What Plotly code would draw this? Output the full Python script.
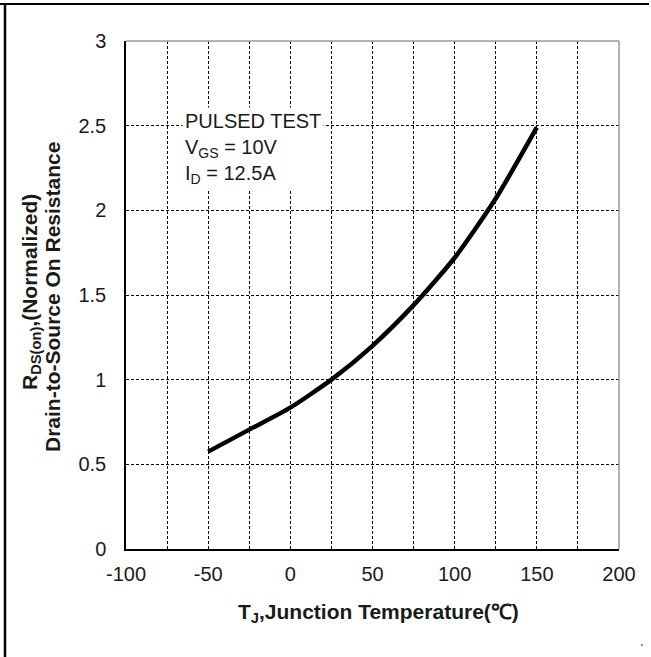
import plotly.graph_objects as go

# Normalized on-resistance vs junction temperature
temp_c = [-50, -25, 0, 25, 50, 75, 100, 125, 150]
rds_norm = [0.575, 0.705, 0.835, 1.0, 1.2, 1.44, 1.72, 2.07, 2.49]

x_ticks = [-100, -50, 0, 50, 100, 150, 200]
x_tick_text = ["-100", "-50", "0", "50", "100", "150", "200"]
y_ticks = [0, 0.5, 1, 1.5, 2, 2.5, 3]
y_tick_text = ["0", "0.5", "1", "1.5", "2", "2.5", "3"]

W, H = 651, 657
L, R, T, B = 126, 32, 41, 108
pw, ph = W - L - R, H - T - B


def px_x(px):
    return (px - L) / pw


def px_y(py):
    return (H - B - py) / ph


font = "Liberation Sans, Arial, sans-serif"
ink = "#1a1a1a"

fig = go.Figure()
fig.add_trace(go.Scatter(
    x=temp_c, y=rds_norm, mode="lines",
    line=dict(color="black", width=4.5, shape="spline", smoothing=0.6),
    hoverinfo="skip", showlegend=False,
))

dash = "3px,2px"
common = dict(showgrid=True, gridcolor="black", gridwidth=1.3, griddash=dash,
              zeroline=False, ticks="", showline=True, linecolor="black", linewidth=1.5,
              tickfont=dict(family=font, size=20, color=ink))

fig.update_xaxes(range=[-100, 200], tickvals=x_ticks, ticktext=x_tick_text,
                 ticklabelstandoff=6,
                 minor=dict(showgrid=True, dtick=25, gridcolor="black", griddash=dash, gridwidth=1.3),
                 **common)
fig.update_yaxes(range=[0, 3], tickvals=y_ticks, ticktext=y_tick_text,
                 ticklabelstandoff=14, **common)

shapes = [
    # gray top and right edges of the plot box
    dict(type="line", xref="paper", yref="paper", x0=0, x1=1, y0=1, y1=1,
         line=dict(color="#999", width=1.5)),
    dict(type="line", xref="paper", yref="paper", x0=1, x1=1, y0=0, y1=1,
         line=dict(color="#999", width=1.5)),
    # outer frame: top and left rules
    dict(type="line", xref="paper", yref="paper", x0=px_x(0), x1=px_x(649),
         y0=px_y(4), y1=px_y(4), line=dict(color="black", width=2)),
    dict(type="line", xref="paper", yref="paper", x0=px_x(5), x1=px_x(5),
         y0=px_y(4), y1=px_y(660), line=dict(color="black", width=2.5)),
    # small red dot near the lower right corner
    dict(type="circle", xref="paper", yref="paper", x0=px_x(641), x1=px_x(643),
         y0=px_y(646), y1=px_y(644), line=dict(width=0), fillcolor="#d04060"),
]

bold = dict(family=font, size=21, color=ink, weight="bold")

# x-axis title
fig.add_annotation(
    xref="paper", yref="paper", x=px_x(378), y=px_y(613), xanchor="center", yanchor="middle",
    text="T<sub>J</sub>,Junction Temperature(℃)", showarrow=False, font=bold,
)
# y-axis title, two rotated lines
fig.add_annotation(
    xref="paper", yref="paper", x=px_x(31), y=px_y(292), xanchor="center", yanchor="middle",
    text="R<sub>DS(on)</sub>,(Normalized)", textangle=-90, showarrow=False, font=bold,
)
fig.add_annotation(
    xref="paper", yref="paper", x=px_x(52), y=px_y(297), xanchor="center", yanchor="middle",
    text="Drain-to-Source On Resistance", textangle=-90, showarrow=False, font=bold,
)

# test conditions
fig.add_annotation(
    xref="paper", yref="paper", x=px_x(182), y=px_y(107), xanchor="left", yanchor="top",
    text="PULSED TEST<br>V<sub>GS</sub> = 10V<br>I<sub>D</sub> = 12.5A",
    showarrow=False, align="left", bgcolor="white", borderpad=2,
    font=dict(family=font, size=20, color=ink),
)

fig.update_layout(
    width=W, height=H, margin=dict(l=L, r=R, t=T, b=B),
    paper_bgcolor="white", plot_bgcolor="white", shapes=shapes,
)

fig.write_html("out.html")
